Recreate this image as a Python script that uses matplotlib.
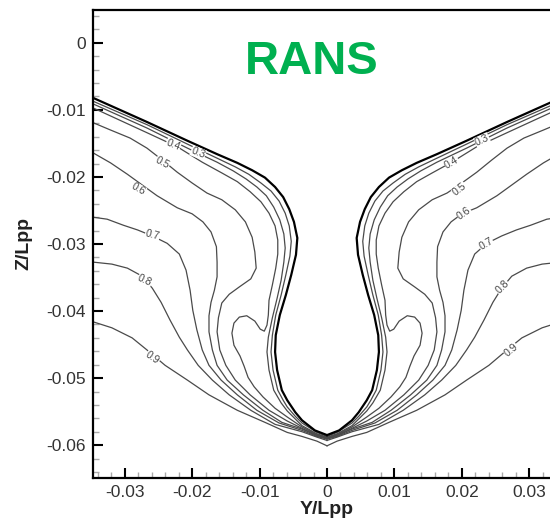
import matplotlib
matplotlib.use("Agg")
import matplotlib.pyplot as plt
from matplotlib.ticker import MultipleLocator, FuncFormatter

plt.rcParams['font.family'] = ['Liberation Sans', 'DejaVu Sans']

# contour lines, right half (Y, Z in units of 1e-3 Lpp), mirrored for the left half
hull_y = [34.7, 26.7, 20.7, 16.3, 13.3, 11.1, 9.2, 7.7, 6.5, 5.6, 4.9, 4.4, 4.6, 5.3, 6.1, 7.0, 7.6, 7.7, 7.4, 6.7, 5.9, 4.7, 3.7, 1.8, 0]
hull_z = [-8.2, -11.8, -14.6, -16.6, -17.9, -19.0, -20.1, -21.5, -23.0, -24.8, -26.7, -29.1, -31.6, -34.6, -37.6, -40.6, -43.6, -46.1, -48.8, -51.8, -53.3, -55.1, -56.3, -57.8, -58.5]

w02_y = [34.7, 26.7, 20.7, 16.3, 13.6, 11.6, 9.8, 8.3, 7.1, 6.2, 5.6, 5.3, 5.5, 6.1, 6.8, 7.6, 8.1, 8.3, 8.0, 7.3, 6.5, 5.9, 4.7, 3.7, 1.5, 0]
w02_z = [-8.7, -12.2, -15.1, -17.2, -18.5, -19.6, -20.9, -22.1, -23.6, -25.4, -27.3, -29.6, -31.8, -34.6, -37.6, -40.6, -43.6, -46.1, -48.8, -51.8, -53.3, -54.3, -55.7, -56.7, -58.1, -58.7]

w03_y = [34.7, 26.7, 20.7, 16.3, 13.9, 12.0, 10.4, 9.0, 7.9, 7.0, 6.4, 6.2, 6.4, 6.8, 7.4, 8.1, 8.7, 8.9, 8.6, 7.9, 6.8, 5.9, 4.7, 3.7, 1.5, 0]
w03_z = [-9.1, -12.7, -15.7, -17.8, -19.1, -20.3, -21.5, -22.8, -24.5, -26.4, -28.5, -30.6, -32.7, -35.4, -38.1, -41.0, -43.9, -46.1, -48.8, -51.8, -53.7, -54.9, -56.1, -57.1, -58.3, -58.8]

w04_y = [34.7, 26.7, 22.2, 18.5, 15.6, 13.3, 11.4, 9.8, 8.6, 7.7, 7.3, 7.3, 7.6, 8.1, 8.6, 8.7, 8.9, 9.3, 9.9, 10.7, 11.9, 13.0, 13.8, 14.1, 13.8, 12.9, 12.3, 11.7, 10.8, 9.5, 7.7, 5.9, 3.7, 1.5, 0]
w04_z = [-9.7, -13.4, -15.5, -17.8, -19.4, -20.7, -22.2, -23.7, -25.4, -27.3, -29.4, -31.5, -33.6, -36.1, -38.4, -40.6, -42.1, -43.0, -42.7, -41.5, -40.7, -40.9, -41.8, -43.3, -45.1, -46.7, -48.2, -49.9, -51.3, -52.8, -54.5, -55.8, -57.3, -58.4, -58.9]

w05_y = [34.7, 32.1, 29.2, 26.7, 24.4, 22.2, 20.0, 17.8, 15.6, 13.6, 12.1, 11.1, 10.7, 10.5, 11.3, 13.0, 14.5, 15.6, 16.1, 16.3, 15.9, 15.0, 13.6, 11.4, 8.6, 5.9, 3.7, 1.5, 0]
w05_z = [-11.9, -13.0, -14.2, -15.7, -17.5, -19.3, -20.9, -22.4, -23.4, -24.9, -26.7, -29.0, -31.2, -33.6, -35.2, -36.4, -37.5, -38.8, -41.0, -43.1, -45.8, -48.1, -50.3, -52.5, -54.8, -56.4, -57.5, -58.5, -59.0]

w06_y = [34.7, 32.1, 29.6, 27.4, 25.2, 22.2, 20.0, 18.4, 17.2, 16.4, 16.3, 16.3, 16.7, 17.2, 17.5, 17.5, 17.0, 16.3, 14.8, 12.4, 9.5, 6.7, 3.7, 1.5, 0]
w06_z = [-16.4, -17.9, -19.6, -21.2, -22.8, -24.6, -25.5, -26.7, -28.2, -30.4, -32.7, -34.9, -36.9, -38.7, -40.7, -43.1, -45.8, -48.1, -50.3, -52.5, -54.8, -56.6, -57.6, -58.6, -59.0]

w07_y = [34.7, 32.6, 30.2, 28.1, 25.9, 23.7, 21.9, 20.9, 20.3, 19.9, 19.3, 18.5, 17.5, 15.7, 13.3, 10.4, 7.1, 3.7, 1.5, 0]
w07_z = [-26.0, -26.3, -27.2, -27.9, -28.8, -29.9, -31.5, -33.9, -36.9, -39.9, -42.8, -45.8, -48.1, -50.3, -52.5, -54.8, -56.7, -57.8, -58.7, -59.1]

w08_y = [34.7, 31.9, 29.6, 27.4, 25.9, 24.6, 23.3, 21.9, 20.7, 19.1, 17.0, 14.5, 11.3, 7.7, 3.7, 1.5, 0]
w08_z = [-32.7, -33.0, -33.6, -34.8, -36.6, -38.7, -41.3, -43.9, -45.8, -48.1, -50.3, -52.5, -54.8, -56.9, -58.0, -58.8, -59.3]

w09_y = [34.7, 31.9, 28.9, 26.7, 24.0, 20.7, 17.5, 13.3, 9.2, 5.9, 3.7, 1.5, 0]
w09_z = [-41.6, -42.5, -44.0, -45.8, -48.1, -50.3, -52.5, -54.8, -56.6, -58.1, -58.7, -59.4, -60.1]

# contour labels (left side, right side)
level_text = ['0.3', '0.4', '0.5', '0.6', '0.7', '0.8', '0.9']
lab_left_y = [-19.1, -22.8, -24.4, -28.0, -25.9, -27.0, -25.9]
lab_left_z = [-16.4, -15.2, -17.9, -21.8, -28.7, -35.4, -47.0]
lab_left_rot = [-22, -22, -28, -30, -15, -25, -35]
lab_right_y = [23.0, 18.5, 19.7, 20.3, 23.6, 26.0, 27.3]
lab_right_z = [-14.5, -17.9, -21.9, -25.4, -30.0, -36.4, -45.8]
lab_right_rot = [25, 30, 38, 35, 30, 45, 40]

S = 1e-3

fig = plt.figure(figsize=(5.5, 5.25), dpi=100)
ax = fig.add_axes([93 / 550, 47 / 525, 468 / 550, 468 / 525])

lines = [(w02_y, w02_z), (w03_y, w03_z), (w04_y, w04_z), (w05_y, w05_z),
         (w06_y, w06_z), (w07_y, w07_z), (w08_y, w08_z), (w09_y, w09_z)]
for ys, zs in lines:
    ax.plot([v * S for v in ys], [v * S for v in zs], color='#4a4a4a', lw=0.9)
    ax.plot([-v * S for v in ys], [v * S for v in zs], color='#4a4a4a', lw=0.9)

ax.plot([v * S for v in hull_y], [v * S for v in hull_z], color='black', lw=1.6)
ax.plot([-v * S for v in hull_y], [v * S for v in hull_z], color='black', lw=1.6)

for i, t in enumerate(level_text):
    for yy, zz, rr in ((lab_left_y[i], lab_left_z[i], lab_left_rot[i]),
                       (lab_right_y[i], lab_right_z[i], lab_right_rot[i])):
        ax.text(yy * S, zz * S, t, fontsize=7.5, color='#444444', rotation=rr,
                ha='center', va='center', rotation_mode='anchor', zorder=5,
                bbox=dict(facecolor='white', edgecolor='none', pad=0.2))

ax.text(-0.0022, -0.0028, 'RANS', fontsize=34, fontweight='bold', color='#00B050',
        ha='center', va='center')

ax.set_xlim(-0.0347, 0.0347)
ax.set_ylim(-0.0649, 0.0049)
ax.xaxis.set_major_locator(MultipleLocator(0.01))
ax.yaxis.set_major_locator(MultipleLocator(0.01))
ax.xaxis.set_minor_locator(MultipleLocator(0.002))
ax.yaxis.set_minor_locator(MultipleLocator(0.002))
fmt = FuncFormatter(lambda v, p: f'{round(v, 4):g}')
ax.xaxis.set_major_formatter(fmt)
ax.yaxis.set_major_formatter(fmt)

ax.tick_params(which='major', direction='in', length=7, width=1.5, labelsize=12.5,
               labelcolor='#333333', pad=5)
ax.tick_params(which='minor', direction='in', length=4, width=1, color='#aaaaaa')
ax.tick_params(top=False, right=False, which='both')
for sp in ax.spines.values():
    sp.set_linewidth(1.6)

ax.set_xlabel('Y/Lpp', fontsize=14, fontweight='bold', color='#222222', labelpad=1)
ax.set_ylabel('Z/Lpp', fontsize=14, fontweight='bold', color='#222222', labelpad=10)

fig.savefig('out.png', dpi=100)
